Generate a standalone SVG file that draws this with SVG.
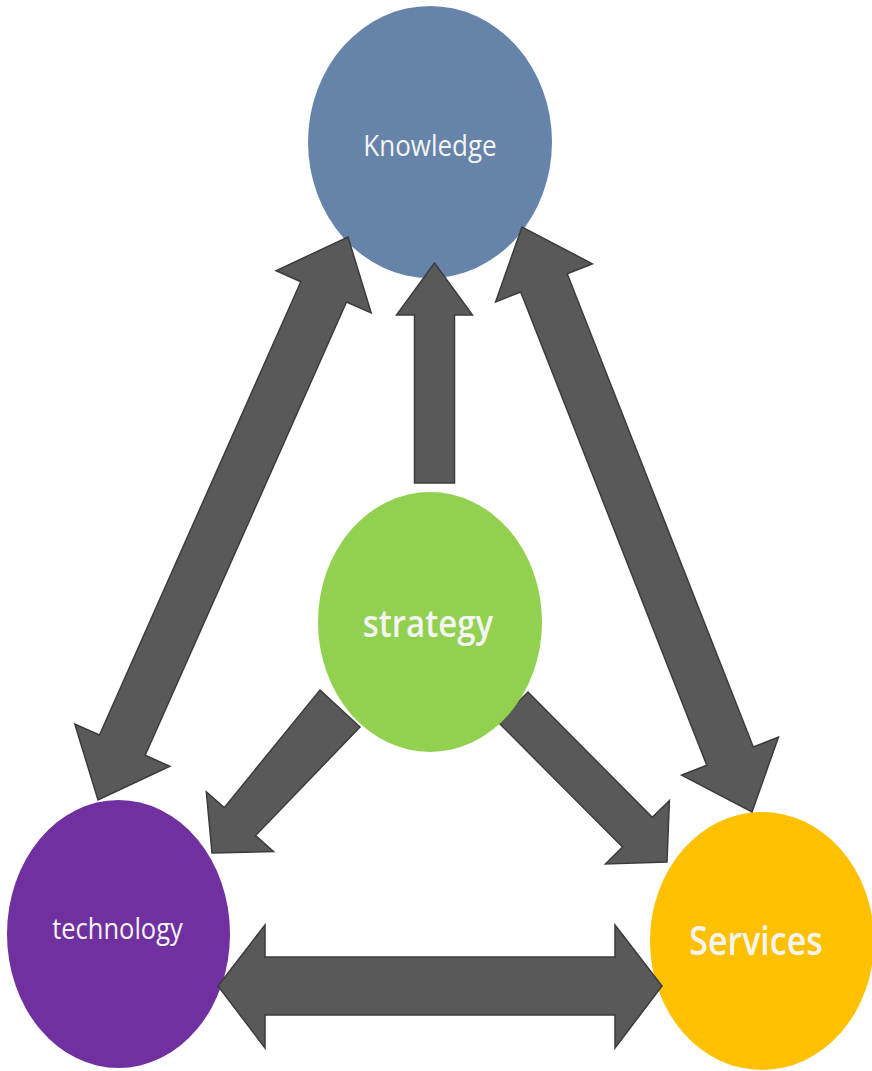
<svg xmlns="http://www.w3.org/2000/svg" width="872" height="1071" viewBox="0 0 872 1071">
<style>
.arrow{fill:#595959;stroke:#3c3c3c;stroke-width:1.5;stroke-linejoin:miter}
.lbl{font-family:"Open Sans","Noto Sans","Liberation Sans",sans-serif;fill:#f4f4f4;text-anchor:middle}
.semi{font-weight:600}
</style>
<rect width="872" height="1071" fill="#ffffff"/>
<g id="knowledge">
<ellipse cx="430" cy="142" rx="122" ry="136" fill="#6683a9"/>
<text class="lbl" x="0" y="0" font-size="26" transform="translate(430,156) scale(1,1.14)">Knowledge</text>
</g>
<g id="technology">
<ellipse cx="118.5" cy="934" rx="111.5" ry="134" fill="#7030a0"/>
<text class="lbl" x="0" y="0" font-size="25.5" transform="translate(117.5,939) scale(1,1.14)">technology</text>
</g>
<g id="services">
<ellipse cx="762" cy="941" rx="112" ry="129" fill="#ffc000"/>
<text class="lbl semi" x="0" y="0" font-size="34" transform="translate(756,955) scale(1,1.18)">Services</text>
</g>
<g id="connectors">
<polygon class="arrow" points="434.5,263 472.5,315 454.5,315 454.5,483 414.5,483 414.5,315 396.5,315"/>
<polygon class="arrow" points="348,237 371.2,313 346.5,302 145.2,755.3 169.9,766.3 98,800 74.8,724 99.5,735 300.8,281.7 276.1,270.7"/>
<polygon class="arrow" points="522,227 495.6,301.9 520.7,292 706.8,765.3 681.6,775.2 752,812 778.5,737.1 753.3,747 567.2,273.7 592.4,263.8"/>
<polygon class="arrow" points="218,986 265,925 265,957 615,957 615,925 662,986 615,1048 615,1015 265,1015 265,1048"/>
<polygon class="arrow" points="212,853 273.5,851.5 255.6,835.6 360,727 320,690 224.2,807.6 206.3,791.7"/>
<polygon class="arrow" points="667,862 669.4,800.5 652.3,817.4 528,692 498,722 622.5,847 605.5,863.9"/>
</g>
<g id="strategy">
<ellipse cx="430" cy="622" rx="112" ry="130" fill="#92d050"/>
<text class="lbl semi" x="0" y="0" font-size="33" transform="translate(428,637) scale(1,1.16)">strategy</text>
</g>
</svg>
